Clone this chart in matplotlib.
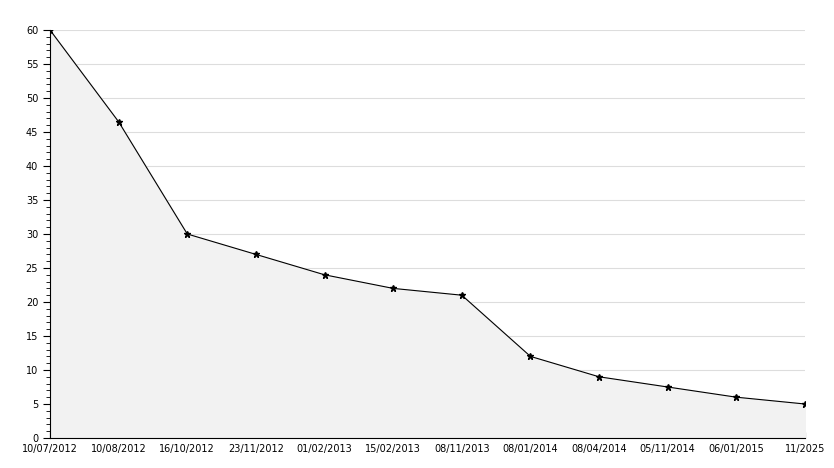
import matplotlib
matplotlib.use("Agg")
import matplotlib.pyplot as plt
from matplotlib.ticker import MultipleLocator

dates = ["10/07/2012", "10/08/2012", "16/10/2012", "23/11/2012", "01/02/2013",
         "15/02/2013", "08/11/2013", "08/01/2014", "08/04/2014", "05/11/2014",
         "06/01/2015", "11/2025"]
values = [60, 46.5, 30, 27, 24, 22, 21, 12, 9, 7.5, 6, 5]

x = list(range(len(dates)))

fig = plt.figure(figsize=(8.34, 4.68), dpi=100)
ax = fig.add_axes([50 / 834, 30 / 468, 755 / 834, 408 / 468])

ax.fill_between(x, values, 0, color="#f2f2f2", zorder=1)
ax.plot(x, values, color="black", lw=0.8, marker="*", ms=5, zorder=3)

ax.set_xlim(0, len(dates) - 1)
ax.set_ylim(0, 60)
ax.set_xticks(x)
ax.set_xticklabels(dates)
ax.yaxis.set_major_locator(MultipleLocator(5))
ax.yaxis.set_minor_locator(MultipleLocator(1))
ax.grid(axis="y", color="#dddddd", lw=0.8, zorder=0)
ax.set_axisbelow(True)

for s in ["top", "right"]:
    ax.spines[s].set_visible(False)
ax.tick_params(axis="x", direction="in", length=4, labelsize=7, pad=4)
ax.tick_params(axis="y", which="major", direction="out", length=5, labelsize=7)
ax.tick_params(axis="y", which="minor", direction="out", length=3)
# lift the "0" label a touch so it clears the first date
ax.get_yticklabels()[0].set_verticalalignment("bottom")

fig.savefig("out.png", dpi=100)
